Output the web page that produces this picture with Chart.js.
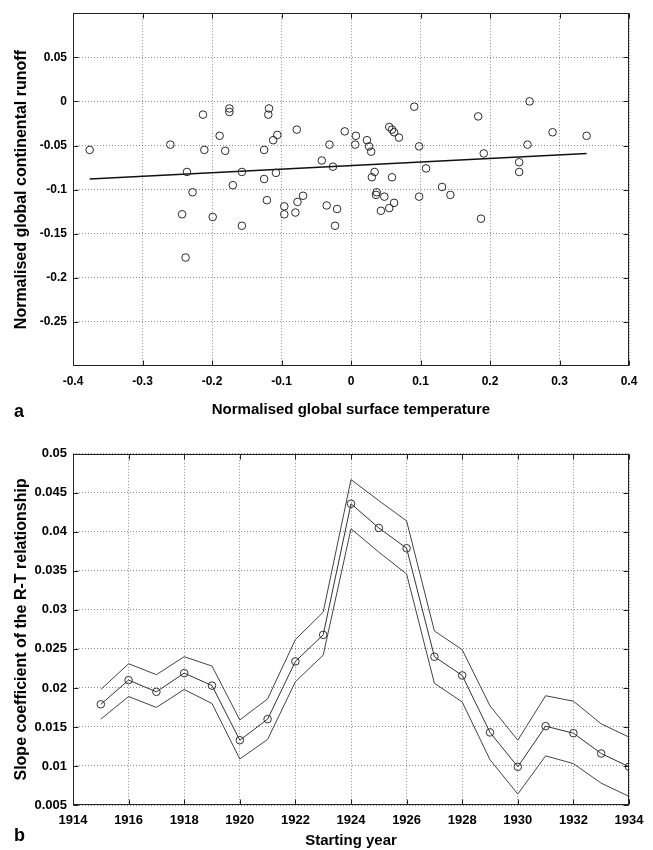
<!DOCTYPE html>
<html>
<head>
<meta charset="utf-8">
<script src="https://cdn.jsdelivr.net/npm/chart.js@4.4.0/dist/chart.umd.min.js"></script>
<style>
  body { margin: 0; background: #fff; }
  #wrap { position: relative; width: 653px; height: 850px; }
  #wrap canvas { position: absolute; left: 0; }
  .panel { position: absolute; font: bold 18px 'Liberation Sans', Arial, sans-serif; color: #000; }
</style>
</head>
<body>
<div id="wrap">
  <canvas id="chart-a" width="653" height="430" style="top:0"></canvas>
  <canvas id="chart-b" width="653" height="410" style="top:440px"></canvas>
  <div class="panel" style="left:14px; top:401px">a</div>
  <div class="panel" style="left:14px; top:825px">b</div>
</div>
<script>
// panel a: normalised temperature vs runoff
const tempX = [-0.376, -0.260, -0.213, -0.211, -0.236, -0.228, -0.189, -0.181, -0.175, -0.175,
  -0.170, -0.157, -0.125, -0.125, -0.118, -0.119, -0.112, -0.106, -0.108, -0.078,
  -0.042, -0.031, -0.026, -0.009, 0.007, 0.006, -0.121, -0.096, -0.096, -0.080,
  -0.077, -0.069, -0.243, -0.199, -0.157, -0.238, -0.035, -0.020, -0.023, 0.023,
  0.026, 0.029, 0.091, 0.055, 0.059, 0.062, 0.069, 0.098, 0.183, 0.191,
  0.257, 0.254, 0.290, 0.339, 0.242, 0.242, 0.108, 0.030, 0.034, 0.059,
  0.037, 0.036, 0.048, 0.043, 0.055, 0.062, 0.098, 0.131, 0.143, 0.187];
const runoffY = [-0.055, -0.049, -0.015, -0.055, -0.080, -0.103, -0.039, -0.056, -0.008, -0.012,
  -0.095, -0.080, -0.055, -0.088, -0.008, -0.015, -0.044, -0.038, -0.081, -0.032,
  -0.067, -0.049, -0.074, -0.034, -0.039, -0.049, -0.112, -0.119, -0.128, -0.126,
  -0.114, -0.107, -0.128, -0.131, -0.141, -0.177, -0.118, -0.122, -0.141, -0.044,
  -0.051, -0.057, -0.006, -0.029, -0.032, -0.035, -0.041, -0.051, -0.017, -0.059,
  0.000, -0.049, -0.035, -0.039, -0.069, -0.080, -0.076, -0.086, -0.080, -0.086,
  -0.103, -0.106, -0.108, -0.124, -0.121, -0.115, -0.108, -0.097, -0.106, -0.133];
const fitX = [-0.376, 0.339];
const fitY = [-0.088, -0.059];
const xTicksA = [-0.4, -0.3, -0.2, -0.1, 0, 0.1, 0.2, 0.3, 0.4];
const yTicksA = [-0.25, -0.2, -0.15, -0.1, -0.05, 0, 0.05];

// panel b: slope coefficient by starting year
const years = [1915, 1916, 1917, 1918, 1919, 1920, 1921, 1922, 1923, 1924,
  1925, 1926, 1927, 1928, 1929, 1930, 1931, 1932, 1933, 1934];
const slopeMid = [0.0179, 0.0210, 0.0195, 0.0219, 0.0203, 0.0133, 0.0160, 0.0234, 0.0268, 0.0436,
  0.0405, 0.0379, 0.0240, 0.0216, 0.0143, 0.0099, 0.0151, 0.0142, 0.0116, 0.0099];
const slopeUpper = [0.0198, 0.0231, 0.0217, 0.0240, 0.0228, 0.0159, 0.0186, 0.0262, 0.0297, 0.0467,
  0.0440, 0.0414, 0.0273, 0.0249, 0.0177, 0.0133, 0.0190, 0.0183, 0.0154, 0.0137];
const slopeLower = [0.0160, 0.0189, 0.0175, 0.0198, 0.0180, 0.0109, 0.0134, 0.0208, 0.0242, 0.0404,
  0.0374, 0.0346, 0.0206, 0.0182, 0.0108, 0.0064, 0.0113, 0.0103, 0.0078, 0.0061];
const xTicksB = [1914, 1916, 1918, 1920, 1922, 1924, 1926, 1928, 1930, 1932, 1934];
const yTicksB = [0.005, 0.01, 0.015, 0.02, 0.025, 0.03, 0.035, 0.04, 0.045, 0.05];

const FONT = "'Liberation Sans', Arial, sans-serif";
Chart.defaults.font.family = FONT;
Chart.defaults.color = '#000';

const fmt = v => String(+(+v).toFixed(4));

// matlab style box with inward ticks
const framePlugin = {
  id: 'frame',
  afterDraw(chart) {
    const { ctx, chartArea: a, scales } = chart;
    const L = Math.round(a.left) + 0.5, R = Math.round(a.right) - 0.5;
    const T = Math.round(a.top) + 0.5, B = Math.round(a.bottom) - 0.5;
    ctx.save();
    ctx.strokeStyle = '#222';
    ctx.lineWidth = 1;
    ctx.strokeRect(L, T, R - L, B - T);
    ctx.beginPath();
    scales.x.ticks.forEach(t => {
      const px = Math.round(scales.x.getPixelForValue(t.value)) + 0.5;
      ctx.moveTo(px, B); ctx.lineTo(px, B - 5);
      ctx.moveTo(px, T); ctx.lineTo(px, T + 5);
    });
    scales.y.ticks.forEach(t => {
      const py = Math.round(scales.y.getPixelForValue(t.value)) + 0.5;
      ctx.moveTo(L, py); ctx.lineTo(L + 5, py);
      ctx.moveTo(R, py); ctx.lineTo(R - 5, py);
    });
    ctx.stroke();
    ctx.restore();
  }
};

function axis(min, max, tickVals, size, title, titleSize, titlePad, tickFont, tickPad) {
  return {
    type: 'linear',
    min: min,
    max: max,
    afterBuildTicks: s => { s.ticks = tickVals.map(v => ({ value: v })); },
    afterFit: s => { if (s.isHorizontal()) s.height = size; else s.width = size; },
    grid: { color: 'rgba(0,0,0,0.45)', lineWidth: 1, drawTicks: false },
    border: { display: false, dash: [1, 2] },
    ticks: {
      autoSkip: false, maxRotation: 0, minRotation: 0, padding: tickPad,
      font: { size: tickFont, weight: 'bold' }, color: '#000',
      callback: v => fmt(v)
    },
    title: {
      display: true, text: title, color: '#000',
      font: { size: titleSize, weight: 'bold' }, padding: titlePad
    }
  };
}

new Chart(document.getElementById('chart-a'), {
  type: 'scatter',
  data: {
    datasets: [{
      data: tempX.map((x, i) => ({ x: x, y: runoffY[i] })),
      pointStyle: 'circle',
      pointRadius: 3.8,
      borderColor: '#2a2a2a',
      backgroundColor: 'rgba(0,0,0,0)',
      borderWidth: 1
    }, {
      data: fitX.map((x, i) => ({ x: x, y: fitY[i] })),
      showLine: true,
      pointRadius: 0,
      borderColor: '#111',
      borderWidth: 1.5
    }]
  },
  options: {
    responsive: false,
    animation: false,
    layout: { autoPadding: false, padding: { top: 12, right: 24, left: 0, bottom: 0 } },
    plugins: { legend: { display: false }, tooltip: { enabled: false } },
    scales: {
      x: axis(-0.4, 0.4, xTicksA, 64, 'Normalised global surface temperature', 15, { top: 0, bottom: 11 }, 12, 8),
      y: axis(-0.3, 0.1, yTicksA, 73, 'Normalised global continental runoff', 16, { top: 12, bottom: 0 }, 12, 6)
    }
  },
  plugins: [framePlugin]
});

function band(vals) {
  return {
    data: years.map((x, i) => ({ x: x, y: vals[i] })),
    showLine: true,
    pointRadius: 0,
    borderColor: '#444',
    borderWidth: 1,
    tension: 0
  };
}

new Chart(document.getElementById('chart-b'), {
  type: 'scatter',
  data: {
    datasets: [band(slopeUpper), band(slopeLower), {
      data: years.map((x, i) => ({ x: x, y: slopeMid[i] })),
      showLine: true,
      pointStyle: 'circle',
      pointRadius: 3.8,
      pointBorderColor: '#333',
      pointBackgroundColor: 'rgba(0,0,0,0)',
      pointBorderWidth: 1,
      borderColor: '#333',
      borderWidth: 1,
      tension: 0
    }]
  },
  options: {
    responsive: false,
    animation: false,
    layout: { autoPadding: false, padding: { top: 12, right: 24, left: 0, bottom: 0 } },
    plugins: { legend: { display: false }, tooltip: { enabled: false } },
    scales: {
      x: axis(1914, 1934, xTicksB, 45, 'Starting year', 15, { top: 0, bottom: 0 }, 13, 8),
      y: axis(0.005, 0.05, yTicksB, 73, 'Slope coefficient of the R-T relationship', 16, { top: 12, bottom: 0 }, 13, 6)
    }
  },
  plugins: [framePlugin]
});
</script>
</body>
</html>
